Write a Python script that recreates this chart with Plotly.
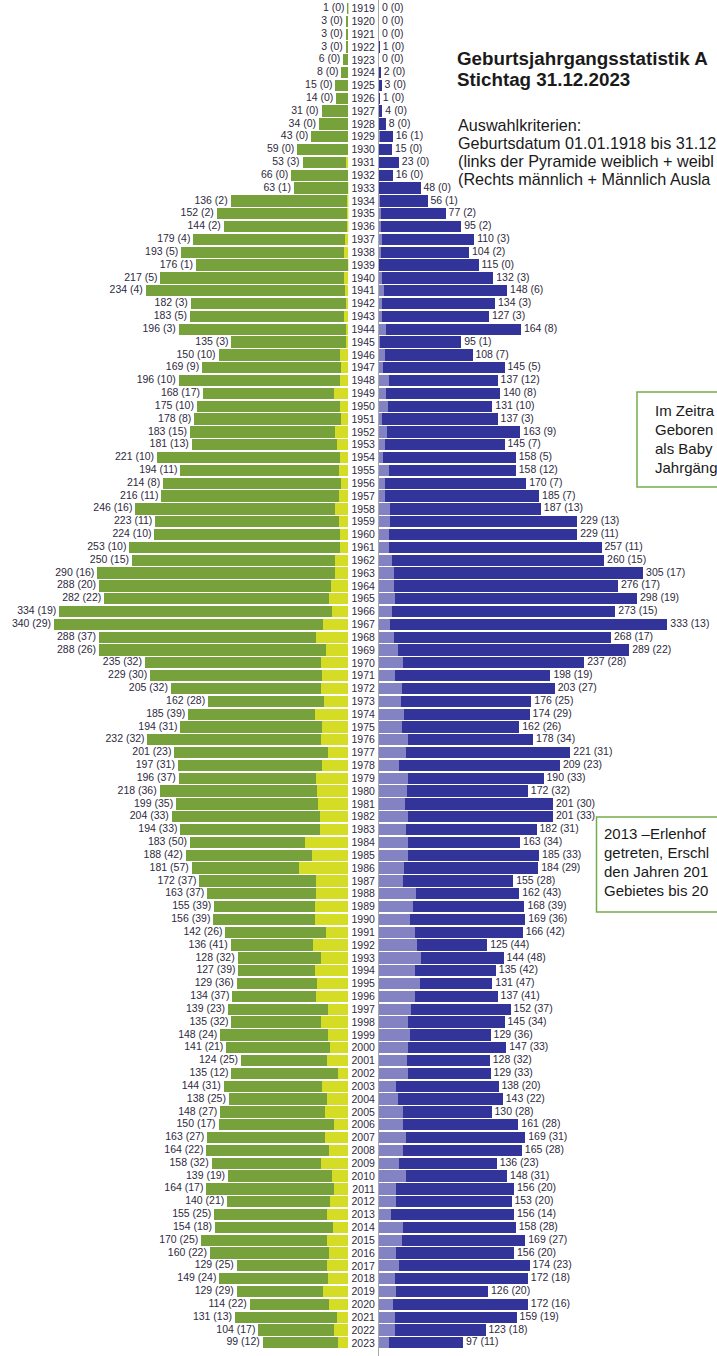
import plotly.graph_objects as go

years = list(range(1919, 2024))

female_total = [1, 3, 3, 3, 6, 8, 15, 14, 31, 34,
                43, 59, 53, 66, 63, 136, 152, 144, 179, 193,
                176, 217, 234, 182, 183, 196, 135, 150, 169, 196,
                168, 175, 178, 183, 181, 221, 194, 214, 216, 246,
                223, 224, 253, 250, 290, 288, 282, 334, 340, 288,
                288, 235, 229, 205, 162, 185, 194, 232, 201, 197,
                196, 218, 199, 204, 194, 183, 188, 181, 172, 163,
                155, 156, 142, 136, 128, 127, 129, 134, 139, 135,
                148, 141, 124, 135, 144, 138, 148, 150, 163, 164,
                158, 139, 164, 140, 155, 154, 170, 160, 129, 149,
                129, 114, 131, 104, 99]
female_foreign = [0, 0, 0, 0, 0, 0, 0, 0, 0, 0,
                  0, 0, 3, 0, 1, 2, 2, 2, 4, 5,
                  1, 5, 4, 3, 5, 3, 3, 10, 9, 10,
                  17, 10, 8, 15, 13, 10, 11, 8, 11, 16,
                  11, 10, 10, 15, 16, 20, 22, 19, 29, 37,
                  26, 32, 30, 32, 28, 39, 31, 32, 23, 31,
                  37, 36, 35, 33, 33, 50, 42, 57, 37, 37,
                  39, 39, 26, 41, 32, 39, 36, 37, 23, 32,
                  24, 21, 25, 12, 31, 25, 27, 17, 27, 22,
                  32, 19, 17, 21, 25, 18, 25, 22, 25, 24,
                  29, 22, 13, 17, 12]
male_total = [0, 0, 0, 1, 0, 2, 3, 1, 4, 8,
              16, 15, 23, 16, 48, 56, 77, 95, 110, 104,
              115, 132, 148, 134, 127, 164, 95, 108, 145, 137,
              140, 131, 137, 163, 145, 158, 158, 170, 185, 187,
              229, 229, 257, 260, 305, 276, 298, 273, 333, 268,
              289, 237, 198, 203, 176, 174, 162, 178, 221, 209,
              190, 172, 201, 201, 182, 163, 185, 184, 155, 162,
              168, 169, 166, 125, 144, 135, 131, 137, 152, 145,
              129, 147, 128, 129, 138, 143, 130, 161, 169, 165,
              136, 148, 156, 153, 156, 158, 169, 156, 174, 172,
              126, 172, 159, 123, 97]
male_foreign = [0, 0, 0, 0, 0, 0, 0, 0, 0, 0,
                1, 0, 0, 0, 0, 1, 2, 2, 3, 2,
                0, 3, 6, 3, 3, 8, 1, 7, 5, 12,
                8, 10, 3, 9, 7, 5, 12, 7, 7, 13,
                13, 11, 11, 15, 17, 17, 19, 15, 13, 17,
                22, 28, 19, 27, 25, 29, 26, 34, 31, 23,
                33, 32, 30, 33, 31, 34, 33, 29, 28, 43,
                39, 36, 42, 44, 48, 42, 47, 41, 37, 34,
                36, 33, 32, 33, 20, 22, 28, 28, 31, 28,
                23, 31, 20, 20, 14, 28, 27, 20, 23, 18,
                20, 16, 19, 18, 11]

W, H = 717, 1356
PX_PER_UNIT = 0.866
LEFT_AXIS_PX = 348.4
RIGHT_AXIS_PX = 379.0
ROW_PX = 12.83
FIRST_ROW_PX = 8.5

GREEN = "#77a23b"
YELLOW = "#d4dc26"
BLUE = "#32349a"
LILAC = "#8382c2"
LABEL = "#2e2a3e"
FONT = "Liberation Sans, Arial, sans-serif"
NB = "\u00a0"

y_top = years[0] - FIRST_ROW_PX / ROW_PX
y_bot = years[0] + (H - FIRST_ROW_PX) / ROW_PX

female_rest = [t - f for t, f in zip(female_total, female_foreign)]
male_rest = [t - f for t, f in zip(male_total, male_foreign)]
female_labels = [f"{t} ({f}){NB}" for t, f in zip(female_total, female_foreign)]
male_labels = [f"{NB}{t} ({f})" for t, f in zip(male_total, male_foreign)]

fig = go.Figure()
bw = 0.88
fig.add_trace(go.Bar(y=years, x=female_foreign, orientation="h", marker_color=YELLOW,
                     marker_line_width=0, width=bw, xaxis="x", yaxis="y", hoverinfo="skip"))
fig.add_trace(go.Bar(y=years, x=female_rest, orientation="h", marker_color=GREEN,
                     marker_line_width=0, width=bw, xaxis="x", yaxis="y", hoverinfo="skip"))
fig.add_trace(go.Bar(y=years, x=male_foreign, orientation="h", marker_color=LILAC,
                     marker_line_width=0, width=bw, xaxis="x2", yaxis="y2", hoverinfo="skip"))
fig.add_trace(go.Bar(y=years, x=male_rest, orientation="h", marker_color=BLUE,
                     marker_line_width=0, width=bw, xaxis="x2", yaxis="y2", hoverinfo="skip"))

fig.add_trace(go.Scatter(y=years, x=female_total, mode="text", text=female_labels,
                         textposition="middle left", cliponaxis=False,
                         textfont=dict(family=FONT, size=10.5, color=LABEL),
                         xaxis="x", yaxis="y", hoverinfo="skip"))
fig.add_trace(go.Scatter(y=years, x=male_total, mode="text", text=male_labels,
                         textposition="middle right", cliponaxis=False,
                         textfont=dict(family=FONT, size=10.5, color=LABEL),
                         xaxis="x2", yaxis="y2", hoverinfo="skip"))

def py(pix):
    return 1 - pix / H

annotations = []
def txt(x, y, s, size, bold=False):
    annotations.append(dict(xref="paper", yref="paper", x=x / W, y=py(y), text=(f"<b>{s}</b>" if bold else s),
                            showarrow=False, xanchor="left", yanchor="middle",
                            font=dict(family=FONT, size=size, color="#1a1a1a")))

txt(455, 59, "Geburtsjahrgangsstatistik A", 18.8, bold=True)
txt(455, 79.5, "Stichtag 31.12.2023", 18.8, bold=True)
txt(456, 125, "Auswahlkriterien:", 16.2)
txt(456, 143, "Geburtsdatum 01.01.1918 bis 31.12", 16.2)
txt(456, 161, "(links der Pyramide weiblich + weibl", 16.2)
txt(456, 179, "(Rechts männlich + Männlich Ausla", 16.2)

txt(653, 410, "Im Zeitra", 15)
txt(653, 429, "Geboren", 15)
txt(653, 448, "als Baby", 15)
txt(653, 467, "Jahrgäng", 15)

txt(602, 834, "2013 –Erlenhof", 15)
txt(602, 852, "getreten, Erschl", 15)
txt(602, 871, "den Jahren 201", 15)
txt(602, 890, "Gebietes bis 20", 15)

shapes = [
    dict(type="rect", xref="paper", yref="paper", x0=637 / W, x1=1.1, y0=py(487), y1=py(392),
         line=dict(color="#74ad4a", width=1.5), fillcolor="rgba(0,0,0,0)"),
    dict(type="rect", xref="paper", yref="paper", x0=596.5 / W, x1=1.1, y0=py(912), y1=py(817),
         line=dict(color="#74ad4a", width=1.5), fillcolor="rgba(0,0,0,0)"),
]

fig.update_layout(
    width=W, height=H, margin=dict(l=0, r=0, t=0, b=0),
    paper_bgcolor="white", plot_bgcolor="rgba(0,0,0,0)",
    barmode="stack", showlegend=False,
    xaxis=dict(domain=[0, LEFT_AXIS_PX / W], range=[LEFT_AXIS_PX / PX_PER_UNIT, 0], visible=False),
    xaxis2=dict(domain=[RIGHT_AXIS_PX / W, 1], range=[0, (W - RIGHT_AXIS_PX) / PX_PER_UNIT], visible=False),
    yaxis=dict(domain=[0, 1], range=[y_bot, y_top], visible=False, anchor="x"),
    yaxis2=dict(domain=[0, 1], range=[y_bot, y_top], anchor="x2", side="left",
                tickmode="array", tickvals=years, ticktext=[str(y) for y in years],
                ticks="", showgrid=False, zeroline=False, showline=True,
                linecolor="#a8a8a8", linewidth=1, layer="below traces",
                tickfont=dict(family=FONT, size=10.5, color=LABEL), ticklabelstandoff=1),
    annotations=annotations, shapes=shapes,
)

fig.write_html("out.html", config={"displayModeBar": False},
               post_script="document.body.style.margin='0';")
